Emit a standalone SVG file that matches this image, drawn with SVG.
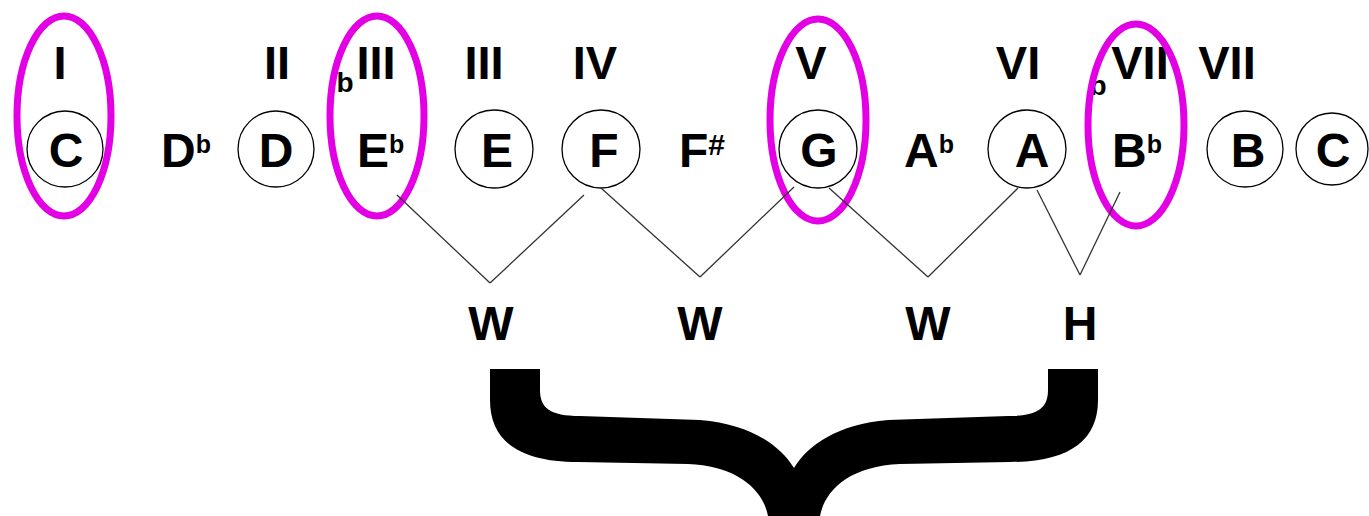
<svg xmlns="http://www.w3.org/2000/svg" width="1369" height="516" viewBox="0 0 1369 516">
<style>
text{font-family:"Liberation Sans",Arial,sans-serif;font-weight:bold;fill:#000}
.num{font-size:47px;text-anchor:middle}
.note{font-size:48px;text-anchor:middle}
.acc{font-size:48px}
.sup{font-size:25px}
.pre{font-size:28px;text-anchor:middle}
.ring{fill:none;stroke:#000;stroke-width:1.3}
.hl{fill:none;stroke:#e400e4;stroke-width:7}
.conn line{stroke:#333;stroke-width:1.3}
</style>
<rect width="1369" height="516" fill="#fff"/>
<g id="numerals">
<text class="num" x="60" y="79">I</text>
<text class="num" x="277" y="79">II</text>
<text class="pre" x="345" y="92">b</text>
<text class="num" x="376" y="79">III</text>
<text class="num" x="484" y="79">III</text>
<text class="num" x="595" y="79">IV</text>
<text class="num" x="811" y="79">V</text>
<text class="num" x="1018" y="79">VI</text>
<text class="pre" x="1098" y="95">b</text>
<text class="num" x="1140" y="79">VII</text>
<text class="num" x="1227" y="79">VII</text>
</g>
<g id="node-C"><circle class="ring" cx="65" cy="149" r="38"/><text class="note" x="66" y="167">C</text></g>
<g id="node-Db"><text class="acc" x="161" y="167">D<tspan class="sup" dy="-14">b</tspan></text></g>
<g id="node-D"><circle class="ring" cx="276" cy="149" r="38"/><text class="note" x="276" y="167">D</text></g>
<g id="node-Eb"><text class="acc" x="357" y="167">E<tspan class="sup" dy="-14">b</tspan></text></g>
<g id="node-E"><circle class="ring" cx="494" cy="149" r="39"/><text class="note" x="497" y="167">E</text></g>
<g id="node-F"><circle class="ring" cx="601" cy="149" r="39"/><text class="note" x="604" y="167">F</text></g>
<g id="node-Fs"><text class="acc" x="679" y="167">F<tspan font-size="30" dy="-12">#</tspan></text></g>
<g id="node-G"><circle class="ring" cx="818" cy="149" r="39"/><text class="note" x="819" y="167">G</text></g>
<g id="node-Ab"><text class="acc" x="904" y="167">A<tspan class="sup" dy="-14">b</tspan></text></g>
<g id="node-A"><circle class="ring" cx="1027" cy="149" r="39"/><text class="note" x="1032" y="167">A</text></g>
<g id="node-Bb"><text class="acc" x="1112" y="167">B<tspan class="sup" dy="-14">b</tspan></text></g>
<g id="node-B"><circle class="ring" cx="1245" cy="149" r="38"/><text class="note" x="1248" y="167">B</text></g>
<g id="node-C2"><circle class="ring" cx="1332" cy="149" r="36"/><text class="note" x="1333" y="167">C</text></g>
<g id="highlights">
<ellipse class="hl" cx="64" cy="116" rx="47" ry="100"/>
<ellipse class="hl" cx="377" cy="116" rx="47" ry="100"/>
<ellipse class="hl" cx="818" cy="120" rx="48" ry="101"/>
<ellipse class="hl" cx="1136" cy="125" rx="48" ry="101"/>
</g>
<g id="connectors" class="conn">
<line x1="397" y1="195" x2="490" y2="283"/>
<line x1="584" y1="195" x2="490" y2="283"/>
<line x1="601" y1="188" x2="700" y2="277"/>
<line x1="794" y1="187" x2="700" y2="277"/>
<line x1="829" y1="188" x2="928" y2="277"/>
<line x1="1018" y1="188" x2="928" y2="277"/>
<line x1="1037" y1="190" x2="1080" y2="275"/>
<line x1="1120" y1="192" x2="1080" y2="275"/>
</g>
<g id="steps">
<text class="note" x="491" y="340">W</text>
<text class="note" x="700" y="340">W</text>
<text class="note" x="928" y="340">W</text>
<text class="note" x="1080" y="340">H</text>
</g>
<g id="brace">
<path fill="#000" d="M490,369 L540,369 L540,390 C540,408 550,416 580,416 L700,420 C750,424 780,445 794,468 C808,445 838,424 888,420 L1008,416 C1038,416 1048,408 1048,390 L1048,369 L1098,369 L1098,400 C1098,440 1070,462 1010,462 L900,464 C850,466 825,490 820,516 L768,516 C763,490 738,466 688,464 L578,462 C518,462 490,440 490,400 Z"/>
</g>
</svg>
